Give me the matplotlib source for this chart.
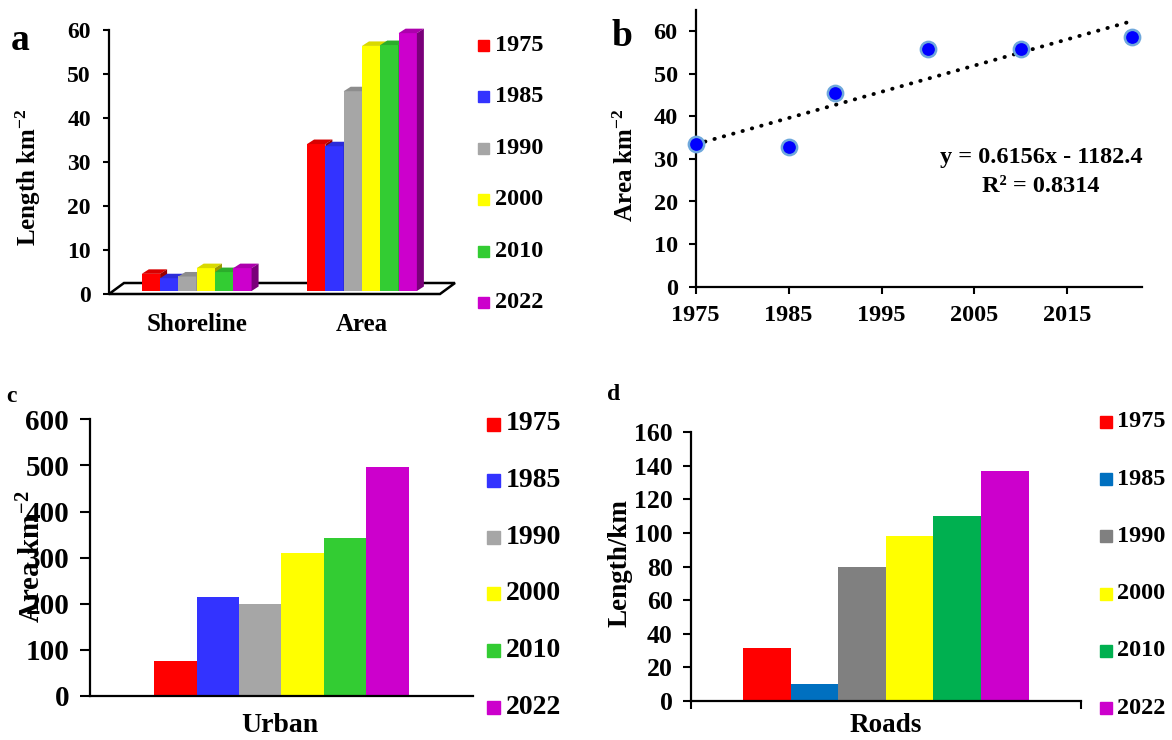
import numpy as np
import matplotlib
matplotlib.use("Agg")
import matplotlib.pyplot as plt
from matplotlib.patches import Polygon, Rectangle
from matplotlib.transforms import ScaledTranslation

plt.rcParams['font.family'] = ['Liberation Serif', 'DejaVu Serif']
plt.rcParams['font.weight'] = 'bold'
plt.rcParams['mathtext.fontset'] = 'custom'
plt.rcParams['mathtext.rm'] = 'Liberation Serif:bold'
plt.rcParams['mathtext.it'] = 'Liberation Serif:bold'
plt.rcParams['mathtext.bf'] = 'Liberation Serif:bold'
plt.rcParams['axes.linewidth'] = 1.6

W, H = 1172, 740

# data
years = ['1975', '1985', '1990', '2000', '2010', '2022']
year_num = [1975, 1985, 1990, 2000, 2010, 2022]
features = ['Shoreline', 'Area']
shoreline_km = [3.9, 2.9, 3.3, 5.2, 4.3, 5.2]
area_km2 = [33.4, 32.9, 45.4, 55.7, 55.9, 58.6]
urban_km2 = [76, 215, 200, 309, 343, 497]
roads_km = [31.4, 10, 79.7, 98.2, 110.1, 137]

colors_abc = ['#FF0000', '#3333FF', '#A6A6A6', '#FFFF00', '#33CC33', '#CC00CC']
colors_d = ['#FF0000', '#0070C0', '#808080', '#FFFF00', '#00B050', '#CC00CC']

fig = plt.figure(figsize=(W / 100, H / 100), dpi=100)


def box(l, t, r, b):
    # pixel box (top-left origin) -> figure fraction rect
    return [l / W, 1 - b / H, (r - l) / W, (b - t) / H]


def fp(x, y):
    return x / W, 1 - y / H


def ftext(x, y, s, size, **kw):
    fig.text(*fp(x, y), s, fontsize=size, fontweight='bold',
             ha=kw.pop('ha', 'center'), va=kw.pop('va', 'center'), **kw)


def legend_px(x, y0, step, sq, tx, size, cols):
    for i, (yr, c) in enumerate(zip(years, cols)):
        yc = y0 + i * step
        fig.patches.append(Rectangle(fp(x, yc + sq / 2), sq / W, sq / H,
                                     transform=fig.transFigure, color=c))
        ftext(tx, yc, yr, size, ha='left')


def shade(c, f):
    rgb = np.array(matplotlib.colors.to_rgb(c))
    return tuple(rgb * f)


def style_ticks(ax, size, length, pad):
    ax.tick_params(axis='both', labelsize=size, width=1.5, length=length,
                   pad=pad, direction='out')


# ---------------- panel a : pseudo-3D columns ----------------
ax_a = fig.add_axes(box(109, 30, 440, 294))
x_left, x_right = -0.5305, 1.472
ax_a.set_xlim(x_left, x_right)
ax_a.set_ylim(0, 60)
for s in ['top', 'right', 'bottom']:
    ax_a.spines[s].set_visible(False)
ax_a.set_yticks(range(0, 61, 10))
ax_a.set_xticks(range(len(features)))
ax_a.set_xticklabels(features)
style_ticks(ax_a, 17, 4, 9)
ax_a.tick_params(axis='x', length=0, pad=14, labelsize=18)

px_x = (x_right - x_left) / 331.0   # data units per pixel
px_y = 60 / 264.0
bw = 0.1107
ddx, ddy = 7 * px_x, 4.5 * px_y
lift = ax_a.transData + ScaledTranslation(0, 0.03, fig.dpi_scale_trans)

# floor
fx, fy = 15 * px_x, 11 * px_y
floor = Polygon([(x_left, 0), (x_right, 0), (x_right + fx, fy), (x_left + fx, fy)],
                closed=True, facecolor='white', edgecolor='black', lw=1.8,
                clip_on=False, zorder=1)
ax_a.add_patch(floor)

series_a = np.array([shoreline_km, area_km2]).T  # rows = years
xs = np.arange(len(features))
for i, c in enumerate(colors_abc):
    xpos = xs + (i - 2.5) * bw
    vals = series_a[i]
    ax_a.bar(xpos, vals, bw, color=c, transform=lift, zorder=3 + i, clip_on=False)
    for xc, v in zip(xpos, vals):
        x0, x1 = xc - bw / 2, xc + bw / 2
        top = Polygon([(x0, v), (x1, v), (x1 + ddx, v + ddy), (x0 + ddx, v + ddy)],
                      closed=True, facecolor=shade(c, 0.85), edgecolor='none',
                      transform=lift, zorder=3 + i, clip_on=False)
        side = Polygon([(x1, 0), (x1, v), (x1 + ddx, v + ddy), (x1 + ddx, ddy)],
                       closed=True, facecolor=shade(c, 0.6), edgecolor='none',
                       transform=lift, zorder=3 + i, clip_on=False)
        ax_a.add_patch(top)
        ax_a.add_patch(side)

legend_px(478, 45.5, 51.4, 11, 495, 17.5, colors_abc)
ftext(28, 177, 'Length km$^{-2}$', 18, rotation=90)
ftext(20, 40, 'a', 27)

# ---------------- panel b : area trend ----------------
ax_b = fig.add_axes(box(695.7, 9.8, 1141.7, 286.7))
ax_b.set_xlim(1975, 2023)
ax_b.set_ylim(0, 65)
ax_b.spines['top'].set_visible(False)
ax_b.spines['right'].set_visible(False)
ax_b.set_xticks(range(1975, 2016, 10))
ax_b.set_yticks(range(0, 61, 10))
style_ticks(ax_b, 17.5, 5, 8)

coef = np.polyfit(year_num, area_km2, 1)
xfit = np.array([year_num[0], year_num[-1]])
ax_b.plot(xfit, np.polyval(coef, xfit), color='black', lw=2.8,
          dashes=(0.1, 2.4), dash_capstyle='round', zorder=2)
ax_b.plot(year_num, area_km2, 'o', ms=11, mfc='#0000FF', mec='#6FA8DC',
          mew=1.8, clip_on=False, zorder=3)

ftext(1041, 158, 'y = 0.6156x - 1182.4', 17.5)
ftext(1041, 186, 'R² = 0.8314', 17.5)
ftext(626, 165, 'Area km$^{-2}$', 18, rotation=90)
ftext(622, 37, 'b', 27)

# ---------------- panel c : urban ----------------
ax_c = fig.add_axes(box(90, 419.3, 472.7, 696))
ax_c.set_xlim(-0.5, 0.5)
ax_c.set_ylim(0, 600)
ax_c.spines['top'].set_visible(False)
ax_c.spines['right'].set_visible(False)
ax_c.set_yticks(range(0, 601, 100))
ax_c.set_xticks([])
style_ticks(ax_c, 21, 7, 8)
wc = 0.1108
for i, (v, c) in enumerate(zip(urban_km2, colors_abc)):
    ax_c.bar((i - 2.5) * wc, v, wc, color=c, zorder=2)

legend_px(487, 424, 56.6, 13, 506, 20, colors_abc)
ftext(280, 725, 'Urban', 20)
ftext(32, 557, 'Area km$^{-2}$', 21, rotation=90)
ftext(11, 396, 'c', 17)

# ---------------- panel d : roads ----------------
ax_d = fig.add_axes(box(690.7, 432.3, 1081, 700.7))
ax_d.set_xlim(-0.5, 0.5)
ax_d.set_ylim(0, 160)
ax_d.spines['top'].set_visible(False)
ax_d.spines['right'].set_visible(False)
ax_d.set_yticks(range(0, 161, 20))
ax_d.set_xticks([-0.5, 0.5])
ax_d.set_xticklabels([])
style_ticks(ax_d, 18.5, 6, 7)
wd = 0.122
for i, (v, c) in enumerate(zip(roads_km, colors_d)):
    ax_d.bar((i - 2.5) * wd, v, wd, color=c, zorder=2)

legend_px(1100, 422, 57.2, 12, 1117, 17.5, colors_d)
ftext(886, 726, 'Roads', 19.5)
ftext(620, 563, 'Length/km', 19.5, rotation=90)
ftext(614, 395, 'd', 17)

fig.savefig('out.png', dpi=100)
